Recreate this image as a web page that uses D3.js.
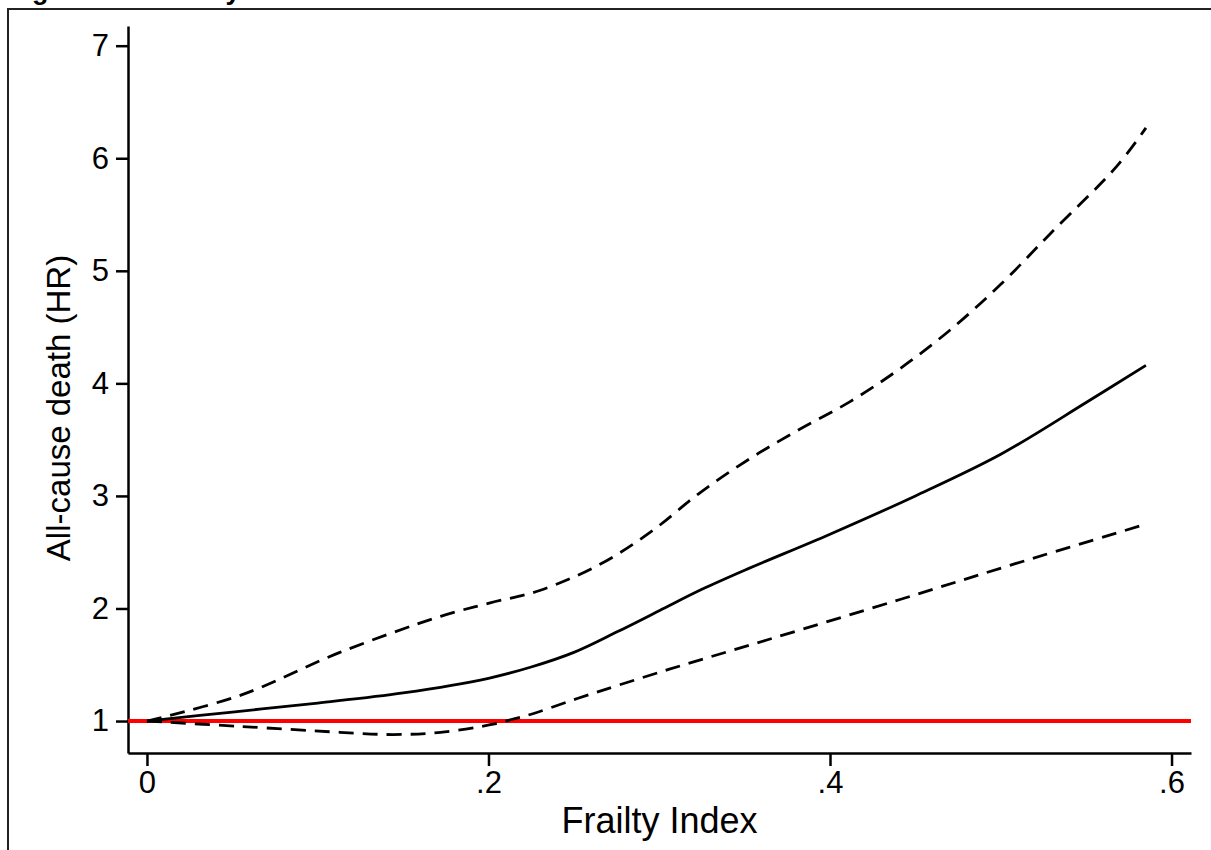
<!DOCTYPE html>
<html>
<head>
<meta charset="utf-8">
<script src="https://cdn.jsdelivr.net/npm/d3@7"></script>
<style>
  body { margin: 0; background: #fff; }
  text { font-family: "Liberation Sans", Arial, sans-serif; fill: #000; }
</style>
</head>
<body>
<div id="chart"></div>
<script>
// data (Frailty Index vs HR)
var fiHR = [0, 0.05, 0.1, 0.15, 0.2, 0.225, 0.25, 0.275, 0.3, 0.325, 0.35, 0.4, 0.45, 0.5, 0.55, 0.585];
var hr = [1.0, 1.08, 1.16, 1.25, 1.38, 1.48, 1.61, 1.79, 1.98, 2.17, 2.34, 2.66, 3.0, 3.37, 3.83, 4.16];

var fiUpper = [0, 0.055, 0.113, 0.172, 0.201, 0.23, 0.265, 0.295, 0.324, 0.353, 0.382, 0.412, 0.44, 0.47, 0.5, 0.529, 0.568, 0.585];
var upper = [1.0, 1.23, 1.61, 1.93, 2.05, 2.16, 2.39, 2.68, 3.03, 3.33, 3.59, 3.84, 4.12, 4.47, 4.88, 5.33, 5.93, 6.27];

var fiLower = [0, 0.055, 0.113, 0.144, 0.172, 0.201, 0.21, 0.226, 0.252, 0.305, 0.363, 0.441, 0.509, 0.583];
var lower = [1.0, 0.952, 0.90, 0.88, 0.90, 0.967, 1.0, 1.065, 1.20, 1.456, 1.72, 2.08, 2.40, 2.74];

var xTicks = [0, 0.2, 0.4, 0.6];
var xTickLabels = ["0", ".2", ".4", ".6"];
var yTicks = [1, 2, 3, 4, 5, 6, 7];
var refHR = 1;

// set up the svg
var svgWidth = 1211;
var svgHeight = 850;

var margin = { top: 26, right: 20, bottom: 97, left: 128 };
var width = svgWidth - margin.left - margin.right;
var height = svgHeight - margin.top - margin.bottom;

var svg = d3.select("#chart")
    .append("svg")
    .attr("width", svgWidth)
    .attr("height", svgHeight);

// outer graph frame (cut by the page edges)
svg.append("rect")
    .attr("x", 8)
    .attr("y", 9)
    .attr("width", svgWidth)
    .attr("height", svgHeight)
    .attr("fill", "none")
    .attr("stroke", "#222")
    .attr("stroke-width", 2);

// title, mostly above the top edge as in the picture
svg.append("text")
    .attr("x", 8)
    .attr("y", -1)
    .style("font-size", "27px")
    .style("font-weight", "bold")
    .text("Figure 3. Mortality");

var chartGroup = svg.append("g")
    .attr("transform", `translate(${margin.left}, ${margin.top})`);

var xLinearScale = d3.scaleLinear()
    .domain([-0.0111, 0.6114])
    .range([0, width]);

var yLinearScale = d3.scaleLinear()
    .domain([0.716, 7.175])
    .range([height, 0]);

var bottomAxis = d3.axisBottom(xLinearScale)
    .tickValues(xTicks)
    .tickFormat((d, i) => xTickLabels[i])
    .tickSize(13)
    .tickSizeOuter(0)
    .tickPadding(5);

var leftAxis = d3.axisLeft(yLinearScale)
    .tickValues(yTicks)
    .tickFormat(d3.format("d"))
    .tickSize(12)
    .tickSizeOuter(0)
    .tickPadding(7);

var xAxis = chartGroup.append("g")
    .attr("transform", `translate(0, ${height})`)
    .call(bottomAxis);

var yAxis = chartGroup.append("g")
    .call(leftAxis);

[xAxis, yAxis].forEach(function(ax) {
    ax.selectAll("path, line")
        .attr("stroke", "#000")
        .attr("stroke-width", 2.5);
    ax.selectAll("text")
        .style("font-size", "31px")
        .attr("fill", "#000");
});

// reference line HR = 1
chartGroup.append("line")
    .attr("x1", 0)
    .attr("x2", width)
    .attr("y1", yLinearScale(refHR))
    .attr("y2", yLinearScale(refHR))
    .attr("stroke", "#ff0000")
    .attr("stroke-width", 4);

function drawCurve(xs, ys, dashed) {
    var pts = xs.map((d, i) => [d, ys[i]]);
    var line = d3.line()
        .x(d => xLinearScale(d[0]))
        .y(d => yLinearScale(d[1]))
        .curve(d3.curveCatmullRom.alpha(0.5));
    chartGroup.append("path")
        .datum(pts)
        .attr("d", line)
        .attr("fill", "none")
        .attr("stroke", "#000")
        .attr("stroke-width", 2.8)
        .attr("stroke-dasharray", dashed ? "15,9" : null);
}

drawCurve(fiUpper, upper, true);
drawCurve(fiLower, lower, true);
drawCurve(fiHR, hr, false);

// axis titles
chartGroup.append("text")
    .attr("x", width / 2)
    .attr("y", height + 80)
    .attr("text-anchor", "middle")
    .style("font-size", "36px")
    .text("Frailty Index");

svg.append("text")
    .attr("transform", `translate(70, 408) rotate(-90)`)
    .attr("text-anchor", "middle")
    .style("font-size", "33px")
    .text("All-cause death (HR)");
</script>
</body>
</html>
